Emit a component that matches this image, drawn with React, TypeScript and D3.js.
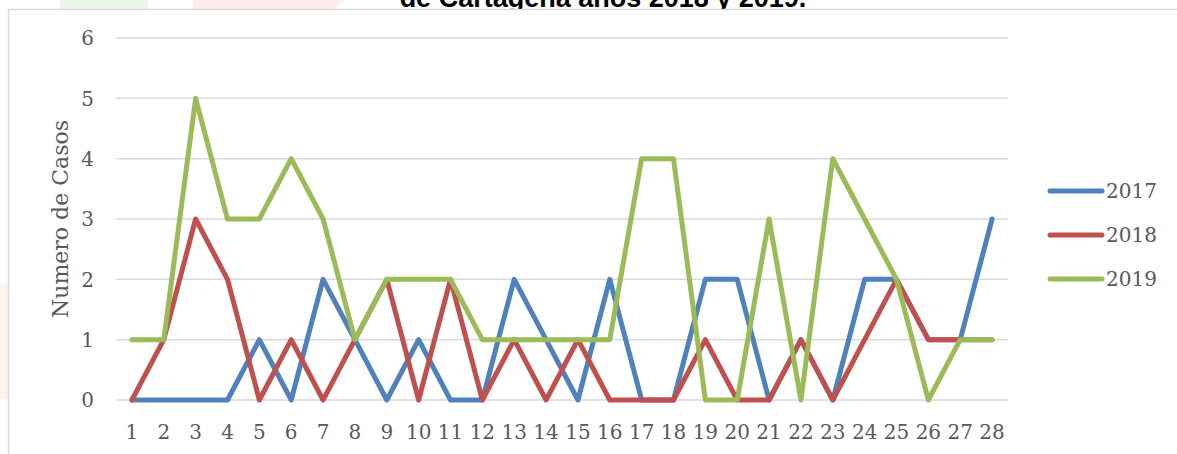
import * as d3 from "d3";

const dias = ["1", "2", "3", "4", "5", "6", "7", "8", "9", "10", "11", "12", "13", "14",
  "15", "16", "17", "18", "19", "20", "21", "22", "23", "24", "25", "26", "27", "28"];

const casos2017 = [0, 0, 0, 0, 1, 0, 2, 1, 0, 1, 0, 0, 2, 1, 0, 2, 0, 0, 2, 2, 0, 1, 0, 2, 2, 1, 1, 3];
const casos2018 = [0, 1, 3, 2, 0, 1, 0, 1, 2, 0, 2, 0, 1, 0, 1, 0, 0, 0, 1, 0, 0, 1, 0, 1, 2, 1, 1, 1];
const casos2019 = [1, 1, 5, 3, 3, 4, 3, 1, 2, 2, 2, 1, 1, 1, 1, 1, 4, 4, 0, 0, 3, 0, 4, 3, 2, 0, 1, 1];

const yTicks = [0, 1, 2, 3, 4, 5, 6];

const series = [
  { name: "2017", values: casos2017, color: "#4f81bd" },
  { name: "2018", values: casos2018, color: "#c0504d" },
  { name: "2019", values: casos2019, color: "#9bbb59" },
];

const W = 1177;
const H = 454;
const plot = { left: 116, right: 1008, top: 38, bottom: 400 };
const font = "'DejaVu Serif', serif";
const textColor = "#595959";

export default function App() {
  const x = d3.scaleBand().domain(dias).range([plot.left, plot.right]);
  const y = d3.scaleLinear().domain([0, 6]).range([plot.bottom, plot.top]);
  const cx = (d: string) => (x(d) || 0) + x.bandwidth() / 2;

  const line = d3
    .line<number>()
    .x((_, i) => cx(dias[i]))
    .y((v) => y(v));

  return (
    <svg
      width={W}
      height={H}
      style={{ position: "absolute", left: 0, top: 0, background: "#fff" }}
    >
      {/* page background bits behind the chart */}
      <rect x={60} y={0} width={88} height={12} fill="#ebf5ea" />
      <polygon points="193,0 345,0 331,12 193,12" fill="#fdeceb" />
      <rect x={0} y={283} width={8} height={116} fill="#fff4e8" />
      <text
        x={603}
        y={7}
        textAnchor="middle"
        fontFamily="'Liberation Sans', Arial, sans-serif"
        fontWeight="bold"
        fontSize={27}
        fill="#000"
      >
        de Cartagena años 2018 y 2019.
      </text>

      {/* chart area */}
      <rect x={8.5} y={9.5} width={W} height={H} fill="#fff" stroke="#d9d9d9" strokeWidth={1.5} />

      {yTicks.map((t) => (
        <g key={t}>
          <line x1={plot.left} x2={plot.right} y1={y(t)} y2={y(t)} stroke="#d9d9d9" strokeWidth={1.5} />
          <text
            x={94}
            y={y(t)}
            dy="0.36em"
            textAnchor="end"
            fontFamily={font}
            fontSize={20}
            fill={textColor}
          >
            {t}
          </text>
        </g>
      ))}

      {dias.map((d) => (
        <text
          key={d}
          x={cx(d)}
          y={439}
          textAnchor="middle"
          fontFamily={font}
          fontSize={20}
          fill={textColor}
        >
          {d}
        </text>
      ))}

      <text
        transform={`translate(68, ${(plot.top + plot.bottom) / 2}) rotate(-90)`}
        textAnchor="middle"
        fontFamily={font}
        fontSize={22}
        fill={textColor}
      >
        Numero de Casos
      </text>

      {series.map((s) => (
        <path
          key={s.name}
          d={line(s.values) || ""}
          fill="none"
          stroke={s.color}
          strokeWidth={5}
          strokeLinejoin="round"
          strokeLinecap="round"
        />
      ))}

      {series.map((s, i) => {
        const ly = 191 + i * 44;
        return (
          <g key={s.name}>
            <line x1={1050} x2={1102} y1={ly} y2={ly} stroke={s.color} strokeWidth={5} strokeLinecap="round" />
            <text x={1106} y={ly} dy="0.36em" fontFamily={font} fontSize={20} fill={textColor}>
              {s.name}
            </text>
          </g>
        );
      })}
    </svg>
  );
}
